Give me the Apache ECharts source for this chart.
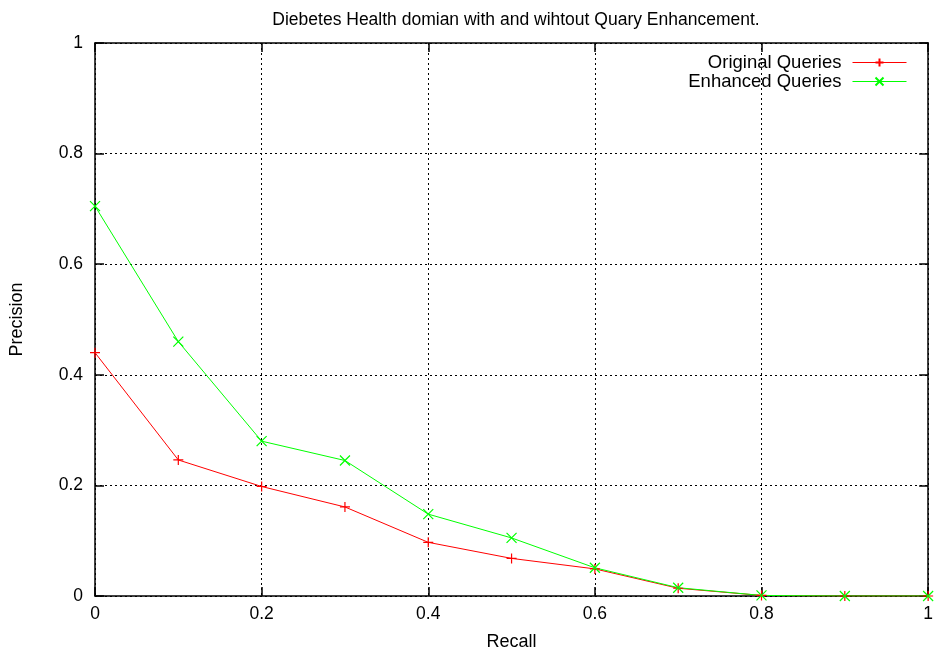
<!DOCTYPE html>
<html><head><meta charset="utf-8">
<script src="https://cdn.jsdelivr.net/npm/echarts@6/dist/echarts.min.js"></script>
<style>html,body{margin:0;padding:0;background:#fff}#c{width:936px;height:656px}</style>
</head><body><div id="c"></div>
<script>
const recall = [0, 0.1, 0.2, 0.3, 0.4, 0.5, 0.6, 0.7, 0.8, 0.9, 1.0];
const originalQueries = [0.44, 0.246, 0.198, 0.161, 0.097, 0.068, 0.049, 0.014, 0.001, 0, 0];
const enhancedQueries = [0.705, 0.46, 0.28, 0.245, 0.148, 0.105, 0.051, 0.015, 0.001, 0, 0];
const seriesNames = ['Original Queries', 'Enhanced Queries'];
const titleText = 'Diebetes Health domian with and wihtout Quary Enhancement.';

const FONT = '"Liberation Sans", Arial, sans-serif';
const plus = 'path://M0,5 L10,5 M5,0 L5,10';
const cross = 'path://M0,0 L10,10 M0,10 L10,0';
const pairs = ys => recall.map((x, i) => [x, ys[i]]);

const tickAxis = (extra) => Object.assign({
  type: 'value', min: 0, max: 1, interval: 0.2,
  axisLine: {show: true, onZero: false, lineStyle: {color: '#000', width: 1.5}},
  axisTick: {show: true, inside: true, length: 9, lineStyle: {color: '#000', width: 1.5}},
  splitLine: {show: false},
  axisLabel: {show: false}
}, extra);

const chart = echarts.init(document.getElementById('c'), null, {renderer: 'canvas'});
chart.setOption({
  animation: false,
  backgroundColor: '#fff',
  title: {text: titleText, left: 511, top: 6, textAlign: 'center',
    textStyle: {fontFamily: FONT, fontSize: 17.5, fontWeight: 'normal', color: '#000'}},
  grid: {left: 94, right: 7, top: 43, bottom: 57, containLabel: false},
  legend: {
    right: 24, top: 48, orient: 'vertical', align: 'right',
    itemWidth: 54, itemHeight: 10, itemGap: 0,
    lineStyle: {width: 1},
    textStyle: {fontFamily: FONT, fontSize: 18.5, color: '#000', padding: [0, 6, 0, 0]},
    data: seriesNames
  },
  xAxis: [
    tickAxis({position: 'bottom', name: 'Recall', nameLocation: 'middle', nameGap: 37,
      nameTextStyle: {fontFamily: FONT, fontSize: 18, color: '#000'},
      axisLabel: {show: true, margin: 9, fontFamily: FONT, fontSize: 17.5, color: '#000',
        formatter: v => String(+v.toFixed(1))},
      splitLine: {show: true, lineStyle: {color: '#000', type: [2, 3], width: 1}}}),
    tickAxis({position: 'top'})
  ],
  yAxis: [
    tickAxis({position: 'left', name: 'Precision', nameLocation: 'middle', nameGap: 69,
      nameTextStyle: {fontFamily: FONT, fontSize: 18, color: '#000'},
      axisLabel: {show: true, margin: 12, fontFamily: FONT, fontSize: 17.5, color: '#000',
        formatter: v => String(+v.toFixed(1))},
      splitLine: {show: true, lineStyle: {color: '#000', type: [2, 3], width: 1}}}),
    tickAxis({position: 'right'})
  ],
  series: [
    {name: seriesNames[0], type: 'line', data: pairs(originalQueries),
      symbol: plus, symbolSize: 10, showAllSymbol: true,
      lineStyle: {color: '#ff0000', width: 1},
      itemStyle: {color: '#ff0000', borderColor: '#ff0000', borderWidth: 1.2}},
    {name: seriesNames[1], type: 'line', data: pairs(enhancedQueries),
      symbol: cross, symbolSize: 10, showAllSymbol: true,
      lineStyle: {color: '#00ff00', width: 1},
      itemStyle: {color: '#00ff00', borderColor: '#00ff00', borderWidth: 1.2}}
  ]
});
</script></body></html>
